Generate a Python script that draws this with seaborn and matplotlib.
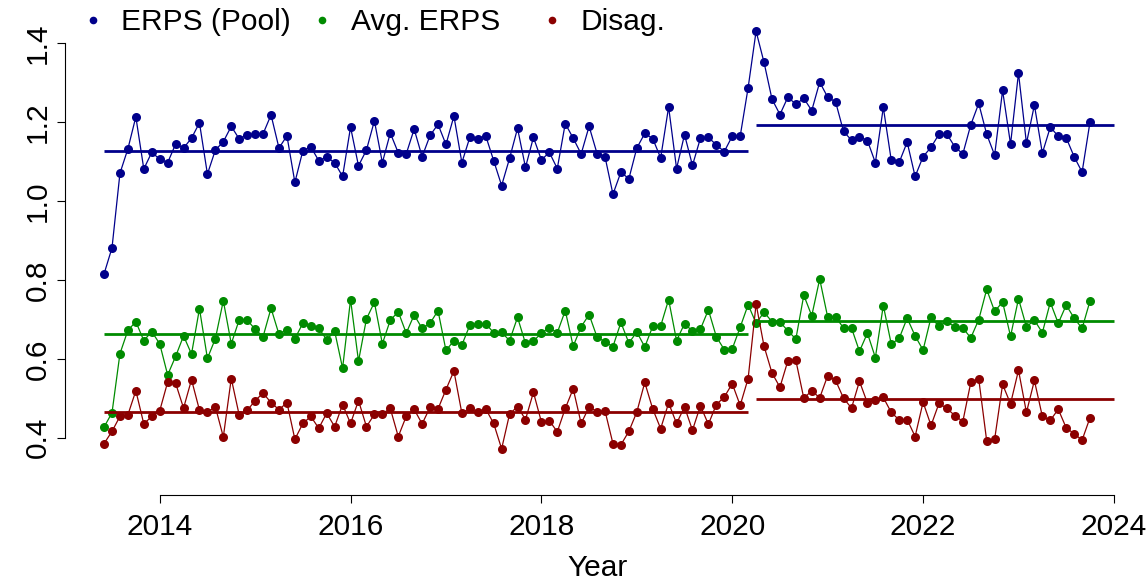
import numpy as np
import pandas as pd
import seaborn as sns
import matplotlib.pyplot as plt
from matplotlib.lines import Line2D

# monthly series, June 2013 onwards
pool = [0.815, 0.881, 1.070, 1.132, 1.213, 1.081, 1.123, 1.106, 1.097, 1.144,
        1.134, 1.159, 1.198, 1.068, 1.129, 1.150, 1.189, 1.157, 1.168, 1.169,
        1.170, 1.218, 1.134, 1.165, 1.047, 1.127, 1.137, 1.102, 1.111, 1.097,
        1.062, 1.187, 1.089, 1.129, 1.203, 1.097, 1.172, 1.122, 1.119, 1.182,
        1.112, 1.166, 1.194, 1.143, 1.215, 1.097, 1.161, 1.158, 1.165, 1.102,
        1.039, 1.108, 1.184, 1.085, 1.161, 1.104, 1.123, 1.082, 1.196, 1.159,
        1.119, 1.189, 1.120, 1.112, 1.017, 1.073, 1.056, 1.134, 1.171, 1.158,
        1.109, 1.238, 1.082, 1.168, 1.090, 1.159, 1.161, 1.142, 1.125, 1.164,
        1.164, 1.287, 1.430, 1.351, 1.258, 1.219, 1.263, 1.245, 1.260, 1.229,
        1.301, 1.263, 1.251, 1.176, 1.154, 1.162, 1.153, 1.097, 1.237, 1.103,
        1.098, 1.149, 1.062, 1.112, 1.136, 1.169, 1.169, 1.137, 1.119, 1.193,
        1.247, 1.169, 1.116, 1.280, 1.144, 1.324, 1.146, 1.243, 1.121, 1.187,
        1.164, 1.160, 1.112, 1.073, 1.201]

avg_erps = [0.427, 0.463, 0.613, 0.672, 0.694, 0.646, 0.669, 0.638, 0.559, 0.606,
            0.658, 0.612, 0.727, 0.601, 0.651, 0.747, 0.638, 0.699, 0.698, 0.675,
            0.656, 0.728, 0.662, 0.674, 0.651, 0.690, 0.684, 0.678, 0.648, 0.670,
            0.576, 0.750, 0.594, 0.701, 0.743, 0.638, 0.698, 0.719, 0.665, 0.711,
            0.677, 0.690, 0.722, 0.621, 0.646, 0.635, 0.685, 0.689, 0.689, 0.666,
            0.667, 0.646, 0.705, 0.639, 0.645, 0.665, 0.679, 0.666, 0.722, 0.632,
            0.681, 0.712, 0.655, 0.643, 0.631, 0.692, 0.640, 0.668, 0.630, 0.682,
            0.683, 0.750, 0.646, 0.689, 0.670, 0.675, 0.724, 0.656, 0.623, 0.625,
            0.680, 0.737, 0.690, 0.718, 0.694, 0.693, 0.671, 0.650, 0.761, 0.709,
            0.802, 0.706, 0.706, 0.678, 0.678, 0.619, 0.665, 0.603, 0.735, 0.637,
            0.652, 0.703, 0.658, 0.622, 0.705, 0.682, 0.695, 0.680, 0.678, 0.653,
            0.699, 0.776, 0.720, 0.744, 0.657, 0.752, 0.681, 0.698, 0.666, 0.743,
            0.690, 0.736, 0.703, 0.677, 0.747]

disag = [0.385, 0.416, 0.454, 0.458, 0.519, 0.435, 0.454, 0.468, 0.541, 0.538,
         0.475, 0.547, 0.470, 0.465, 0.478, 0.402, 0.550, 0.457, 0.469, 0.494,
         0.513, 0.489, 0.471, 0.489, 0.396, 0.436, 0.454, 0.424, 0.462, 0.428,
         0.484, 0.436, 0.494, 0.428, 0.459, 0.461, 0.474, 0.403, 0.454, 0.472,
         0.435, 0.477, 0.473, 0.522, 0.569, 0.462, 0.475, 0.466, 0.473, 0.436,
         0.372, 0.460, 0.479, 0.446, 0.515, 0.440, 0.443, 0.415, 0.474, 0.524,
         0.436, 0.478, 0.466, 0.468, 0.385, 0.382, 0.416, 0.465, 0.540, 0.473,
         0.423, 0.488, 0.436, 0.478, 0.419, 0.481, 0.434, 0.484, 0.503, 0.537,
         0.482, 0.550, 0.739, 0.632, 0.564, 0.528, 0.595, 0.596, 0.500, 0.519,
         0.501, 0.557, 0.545, 0.500, 0.475, 0.543, 0.488, 0.496, 0.502, 0.464,
         0.445, 0.446, 0.403, 0.490, 0.431, 0.487, 0.474, 0.456, 0.441, 0.540,
         0.549, 0.392, 0.396, 0.535, 0.486, 0.571, 0.464, 0.545, 0.454, 0.444,
         0.472, 0.425, 0.410, 0.394, 0.451]

series_names = ["ERPS (Pool)", "Avg. ERPS", "Disag."]
colors = ["#00008B", "#008B00", "#8B0000"]

# regime means (before / after the break)
regime_start = ["2013-06", "2020-04"]
regime_end = ["2020-03", "2024-01"]
mean_pool = [1.126, 1.192]
mean_avg = [0.663, 0.695]
mean_disag = [0.464, 0.498]


def to_year(d):
    d = pd.Timestamp(d)
    return d.year + (d.month - 1) / 12


months = pd.date_range("2013-06-01", periods=len(pool), freq="MS")
year = np.array(months.year + (months.month - 1) / 12)

df = pd.concat([
    pd.DataFrame({"Year": year, "value": vals, "series": name})
    for name, vals in zip(series_names, [pool, avg_erps, disag])
])

sns.set_style("white")
plt.rcParams['font.family'] = ['Liberation Sans', 'DejaVu Sans']
plt.rcParams['text.color'] = 'black'
plt.rcParams['axes.labelcolor'] = 'black'
plt.rcParams['xtick.color'] = 'black'
plt.rcParams['ytick.color'] = 'black'

W, H = 1146, 580
fig = plt.figure(figsize=(W / 100, H / 100), dpi=100)
ax = fig.add_axes([64.6 / W, (H - 495) / H, (1129.5 - 64.6) / W, (495 - 13.4) / H])

sns.lineplot(data=df, x="Year", y="value", hue="series", hue_order=series_names,
             palette=colors, marker="o", markersize=6.5, markeredgewidth=0,
             linewidth=0.9, legend=False, ax=ax)

for means, c in zip([mean_pool, mean_avg, mean_disag], colors):
    for s, e, m in zip(regime_start, regime_end, means):
        ax.plot([to_year(s), to_year(e)], [m, m], color=c, lw=2.0,
                solid_capstyle="butt")

# R style limits: 4% padding
xr = year.max() - year.min()
ax.set_xlim(year.min() - 0.04 * xr, year.max() + 0.04 * xr)
y_lo, y_hi = 0.3, max(pool)
ax.set_ylim(y_lo - 0.04 * (y_hi - y_lo), y_hi + 0.04 * (y_hi - y_lo))

ax.set_xticks([2014, 2016, 2018, 2020, 2022, 2024])
ax.set_yticks([0.4, 0.6, 0.8, 1.0, 1.2, 1.4])
ax.set_yticklabels(["0.4", "0.6", "0.8", "1.0", "1.2", "1.4"],
                   rotation=90, va="center")
ax.tick_params(axis="both", labelsize=21.5, length=6, width=0.8,
               color="black", labelcolor="black", direction="out",
               left=True, bottom=True)
ax.tick_params(axis="x", pad=7)
ax.tick_params(axis="y", pad=3)

for side in ["top", "right"]:
    ax.spines[side].set_visible(False)
for side in ["left", "bottom"]:
    ax.spines[side].set_color("black")
    ax.spines[side].set_linewidth(0.8)
ax.spines["left"].set_bounds(0.4, 1.4)
ax.spines["bottom"].set_bounds(2014, 2024)

ax.set_xlabel("Year", fontsize=21.5, labelpad=9, color="black")
ax.set_ylabel("")

# horizontal legend with equal slots, like R's legend(horiz=TRUE)
for k, (name, c) in enumerate(zip(series_names, colors)):
    h = Line2D([], [], marker="o", ls="", color=c, markersize=5.5, markeredgewidth=0)
    fig.legend(handles=[h], labels=[name], loc="center left",
               bbox_to_anchor=((78 + 229.5 * k) / W, 1 - 22 / H),
               frameon=False, fontsize=21.5, borderpad=0, borderaxespad=0,
               handlelength=1.0, handletextpad=0.45, labelcolor="black")

fig.savefig("out.png", dpi=100)
